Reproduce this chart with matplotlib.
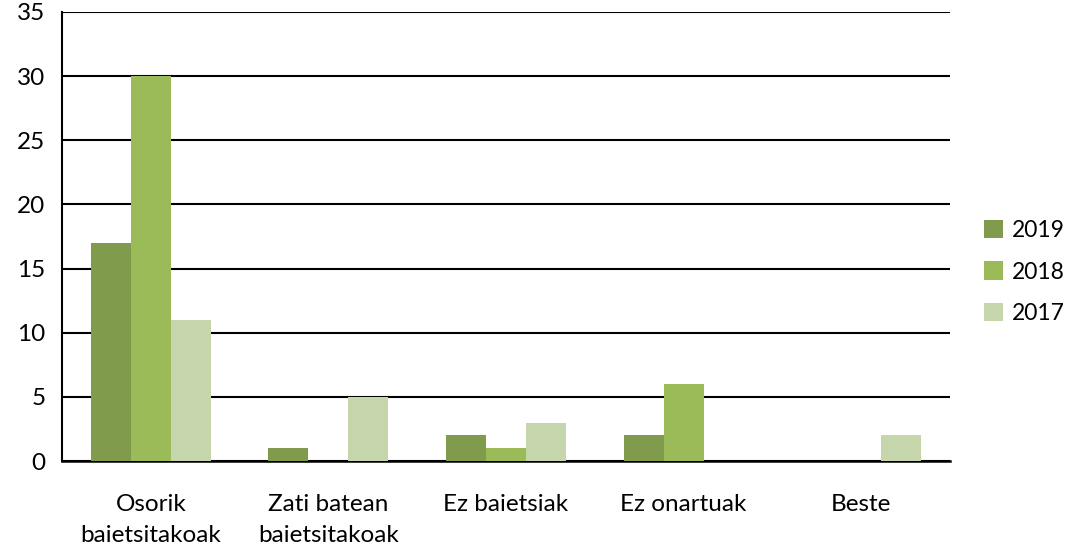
import numpy as np
import matplotlib.pyplot as plt

plt.rcParams['font.family'] = ['Lato', 'DejaVu Sans']

# Chart data
categories = ['Osorik\nbaietsitakoak', 'Zati batean\nbaietsitakoak', 'Ez baietsiak', 'Ez onartuak', 'Beste']
years = ['2019', '2018', '2017']
values_2019 = [17, 1, 2, 2, 0]
values_2018 = [30, 0, 1, 6, 0]
values_2017 = [11, 5, 3, 0, 2]
colors = ['#7F9B4B', '#9BBB59', '#C6D6AC']

fig = plt.figure(figsize=(10.68, 5.49), dpi=100)
ax = fig.add_axes([62 / 1068, 1 - 461 / 549, 888 / 1068, 449 / 549])

x = np.arange(len(categories))
width = 0.225
for i, (vals, year) in enumerate(zip([values_2019, values_2018, values_2017], years)):
    ax.bar(x + (i - 1) * width, vals, width, color=colors[i], label=year, zorder=3)

ax.set_xlim(-0.5, len(categories) - 0.5)
ax.set_ylim(0, 35)
ax.set_yticks(np.arange(0, 36, 5))
ax.set_xticks(x)
ax.set_xticklabels(categories, fontsize=17.5, linespacing=1.55)
ax.tick_params(axis='y', labelsize=17.5, length=0, pad=12)
ax.tick_params(axis='x', length=0, pad=24)
ax.yaxis.grid(True, color='black', linewidth=1.5, zorder=0)
ax.set_axisbelow(True)

for side in ['top', 'right']:
    ax.spines[side].set_visible(False)
ax.spines['left'].set_linewidth(1.5)
ax.spines['bottom'].set_linewidth(1.8)

fig.legend(loc='center left', bbox_to_anchor=(984 / 1068, 1 - 272 / 549), frameon=False,
           fontsize=16.5, handlelength=0.85, handleheight=0.85, labelspacing=0.9,
           handletextpad=0.35, borderpad=0, borderaxespad=0)

fig.savefig('out.png', dpi=100)
